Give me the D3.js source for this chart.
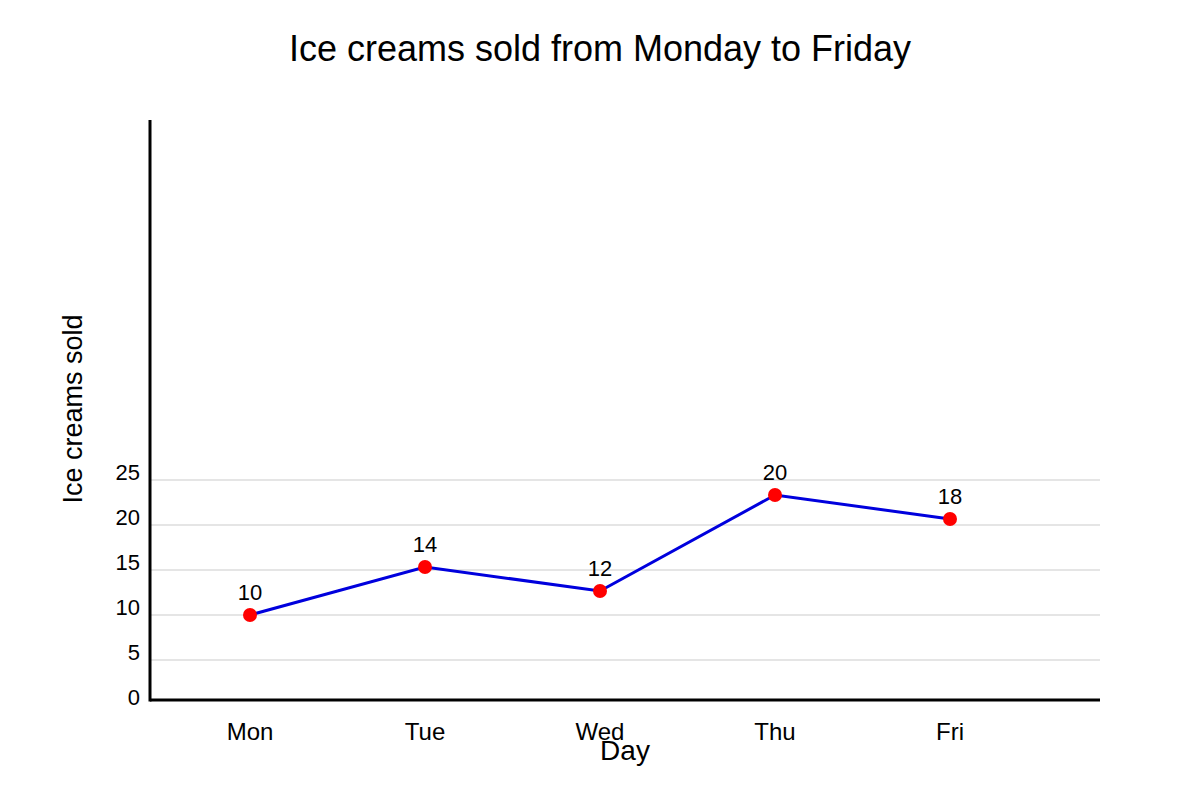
<!DOCTYPE html>
<html lang="en">
<head>
  <meta charset="UTF-8">
  <title>Ice creams sold</title>
  <style>
    body { margin: 0; background: #fff; font-family: 'Liberation Sans', Arial, sans-serif; }
  </style>
  <script src="https://d3js.org/d3.v7.min.js"></script>
</head>
<body>
<script>
  // chart data
  const days = ["Mon", "Tue", "Wed", "Thu", "Fri"];
  const sold = [10, 14, 12, 20, 18];
  const yTicks = [0, 5, 10, 15, 20, 25];

  const width = 1200, height = 800;
  const plotLeft = 150, plotRight = 1100, axisY = 700, plotTop = 120;

  const svg = d3.select("body").append("svg")
    .attr("width", width)
    .attr("height", height);

  // x positions of the days
  const x = d3.scalePoint().domain(days).range([250, 950]);
  // grid / tick scale and point scale (the original uses two different ones)
  const yGrid = d3.scaleLinear().domain([0, 25]).range([705, 480]);
  const yPt = d3.scaleLinear().domain([0, 25]).range([735, 435]);

  // title
  svg.append("text")
    .attr("x", 600).attr("y", 61)
    .attr("text-anchor", "middle")
    .style("font-size", "36px")
    .text("Ice creams sold from Monday to Friday");

  // gridlines
  svg.append("g").selectAll("line")
    .data(yTicks.filter(d => d > 0))
    .enter().append("line")
    .attr("x1", plotLeft).attr("x2", plotRight)
    .attr("y1", d => yGrid(d)).attr("y2", d => yGrid(d))
    .attr("stroke", "#dddddd")
    .attr("stroke-width", 1.5);

  // y tick labels
  svg.append("g").selectAll("text")
    .data(yTicks)
    .enter().append("text")
    .attr("x", 140)
    .attr("y", d => yGrid(d))
    .attr("text-anchor", "end")
    .style("font-size", "22px")
    .text(d => d);

  // axes lines
  svg.append("line")
    .attr("x1", plotLeft).attr("x2", plotLeft)
    .attr("y1", plotTop).attr("y2", axisY + 1.5)
    .attr("stroke", "#000").attr("stroke-width", 3);
  svg.append("line")
    .attr("x1", plotLeft).attr("x2", plotRight)
    .attr("y1", axisY).attr("y2", axisY)
    .attr("stroke", "#000").attr("stroke-width", 3);

  // x labels
  svg.append("g").selectAll("text")
    .data(days)
    .enter().append("text")
    .attr("x", d => x(d))
    .attr("y", 740)
    .attr("text-anchor", "middle")
    .style("font-size", "24px")
    .text(d => d);

  // axis titles
  svg.append("text")
    .attr("x", 625).attr("y", 760)
    .attr("text-anchor", "middle")
    .style("font-size", "28px")
    .text("Day");

  svg.append("text")
    .attr("transform", "translate(82,409) rotate(-90)")
    .attr("text-anchor", "middle")
    .style("font-size", "27px")
    .text("Ice creams sold");

  // line
  const line = d3.line()
    .x((d, i) => x(days[i]))
    .y(d => yPt(d));

  svg.append("path")
    .datum(sold)
    .attr("d", line)
    .attr("fill", "none")
    .attr("stroke", "#0000dd")
    .attr("stroke-width", 3);

  // points
  svg.append("g").selectAll("circle")
    .data(sold)
    .enter().append("circle")
    .attr("cx", (d, i) => x(days[i]))
    .attr("cy", d => yPt(d))
    .attr("r", 7)
    .attr("fill", "#ff0000");

  // value labels
  svg.append("g").selectAll("text")
    .data(sold)
    .enter().append("text")
    .attr("x", (d, i) => x(days[i]))
    .attr("y", d => yPt(d) - 15)
    .attr("text-anchor", "middle")
    .style("font-size", "22px")
    .text(d => d);
</script>
</body>
</html>
